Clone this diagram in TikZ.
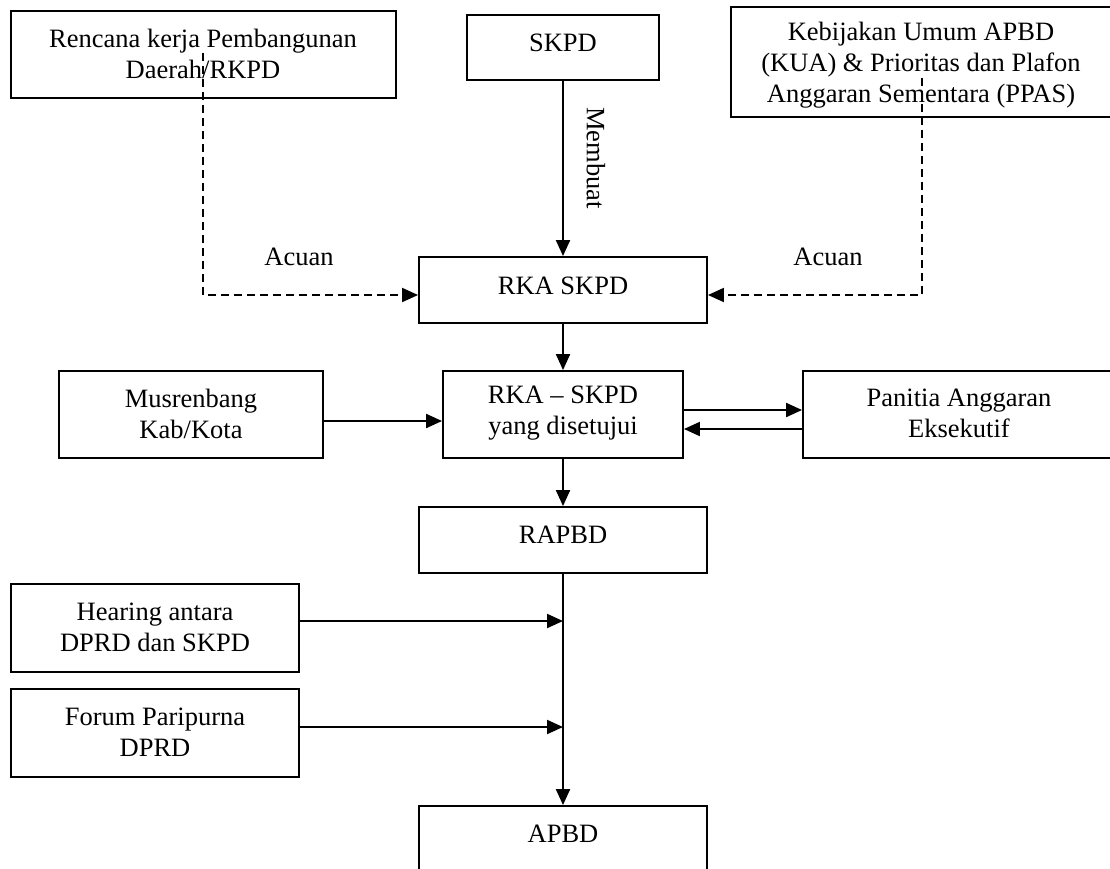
\documentclass[tikz,border=0pt]{standalone}
\usepackage{fontspec}
\setmainfont{Liberation Serif}
\usetikzlibrary{arrows.meta}
\begin{document}
\begin{tikzpicture}[x=1pt,y=-1pt,
  box/.style={draw, line width=1.9pt, inner sep=0pt},
  txt/.style={align=center, font=\fontsize{26.5}{31}\selectfont, inner sep=0pt},
  arr/.style={line width=2.1pt, -{Triangle[length=16pt,width=14pt]}},
  dsh/.style={line width=1.9pt, dash pattern=on 8pt off 5pt, -{Triangle[length=16pt,width=14pt]}}]
\useasboundingbox (0,0) rectangle (1110,868);
\clip (0,0) rectangle (1110,868);
% boxes
\node[box, minimum width=385pt, minimum height=87pt] (rkpd) at (203.5,54.5) {};
\node[box, minimum width=192pt, minimum height=65pt] (skpd) at (563,47.5) {};
\node[box, minimum width=381pt, minimum height=110pt] (kua) at (921.5,62) {};
\node[box, minimum width=288pt, minimum height=66pt] (rka) at (563,290) {};
\node[box, minimum width=264pt, minimum height=87pt] (mus) at (191,414.5) {};
\node[box, minimum width=240pt, minimum height=87pt] (rkas) at (563,414.5) {};
\node[box, minimum width=312pt, minimum height=87pt] (pan) at (959,414.5) {};
\node[box, minimum width=288pt, minimum height=66pt] (rapbd) at (563,540) {};
\node[box, minimum width=288pt, minimum height=88pt] (hear) at (155,628) {};
\node[box, minimum width=288pt, minimum height=88pt] (forum) at (155,733) {};
\node[box, minimum width=288pt, minimum height=74pt] (apbd) at (563,843) {};
% texts
\node[txt] (rkpdT) at (203,54) {Rencana kerja Pembangunan\\Daerah/RKPD};
\node[txt] (skpdT) at (563,43) {SKPD};
\node[txt] (kuaT) at (921,65) {Kebijakan Umum APBD\\(KUA) \& Prioritas dan Plafon\\Anggaran Sementara (PPAS)};
\node[txt] (rkaT) at (563,286) {RKA SKPD};
\node[txt] (musT) at (191,414) {Musrenbang\\Kab/Kota};
\node[txt] (rkasT) at (563,413) {RKA -- SKPD\\yang disetujui};
\node[txt] (panT) at (959,413) {Panitia Anggaran\\Eksekutif};
\node[txt] (rapbdT) at (563,535) {RAPBD};
\node[txt] (hearT) at (155,627) {Hearing antara\\DPRD dan SKPD};
\node[txt] (forumT) at (155,732) {Forum Paripurna\\DPRD};
\node[txt] (apbdT) at (563,834) {APBD};
% labels
\node[txt] (acL) at (299,257) {Acuan};
\node[txt] (acR) at (828,257) {Acuan};
\node[txt, rotate=-90] (mb) at (596,158) {Membuat};
% connectors
\draw[arr] (skpd.south) -- (rka.north);
\draw[arr] (rka.south) -- (rkas.north);
\draw[arr] (rkas.south) -- (rapbd.north);
\draw[arr] (rapbd.south) -- (apbd.north);
\draw[arr] ([yshift=-6.5pt]mus.east) -- ([yshift=-6.5pt]rkas.west);
\draw[arr] ([yshift=4.5pt]rkas.east) -- ([yshift=4.5pt]pan.west);
\draw[arr] ([yshift=-14.5pt]pan.west) -- ([yshift=-14.5pt]rkas.east);
\coordinate (hj) at ([yshift=7pt]hear.east -| rapbd.south);
\coordinate (fj) at ([yshift=6pt]forum.east -| rapbd.south);
\draw[arr] ([yshift=7pt]hear.east) -- (hj);
\draw[arr] ([yshift=6pt]forum.east) -- (fj);
\coordinate (dl) at (203,53);
\coordinate (dr) at (922,78);
\draw[dsh] (dl) |- ([yshift=-5pt]rka.west);
\draw[dsh] (dr) |- ([yshift=-5pt]rka.east);
\end{tikzpicture}
\end{document}
